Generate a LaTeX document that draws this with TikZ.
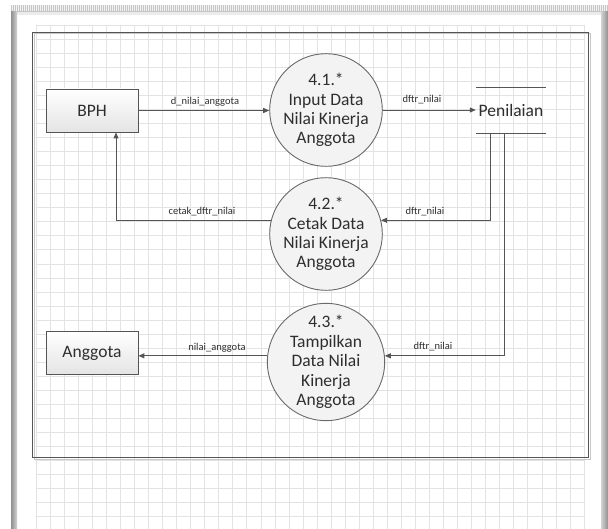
\documentclass[tikz,border=0pt]{standalone}
\usepackage{fontspec}
\setmainfont{Carlito}
\usetikzlibrary{arrows.meta}
\definecolor{linegray}{HTML}{555555}
\definecolor{circgray}{HTML}{6A6A6A}
\definecolor{circfill}{HTML}{F3F3F3}
\definecolor{boxbot}{HTML}{E4E4E4}
\definecolor{txt}{HTML}{2E2E2E}
\definecolor{gridc}{HTML}{E3E3E3}
\definecolor{bandc}{HTML}{C4C4C4}
\definecolor{barc}{HTML}{B4B4B4}
\tikzset{
  ext/.style={draw=linegray, line width=0.9pt, top color=white, bottom color=boxbot,
    minimum width=92pt, minimum height=43pt, inner sep=0pt,
    font=\fontsize{17.5}{19.5}\selectfont, text=txt},
  proc/.style={circle, draw=circgray, line width=0.9pt, fill=circfill,
    minimum size=108pt, inner sep=0pt, align=center,
    font=\fontsize{17.5}{19.4}\selectfont, text=txt},
  store/.style={inner sep=0pt, minimum width=70pt, minimum height=45pt,
    font=\fontsize{17.5}{19.5}\selectfont, text=txt},
  flow/.style={draw=linegray, line width=0.95pt, -{Triangle[length=6pt,width=5pt]}},
  lbl/.style={font=\fontsize{10.5}{12}\selectfont, text=txt, inner sep=0pt},
  gridline/.style={draw=gridc, line width=0.6pt},
}
\begin{document}
\begin{tikzpicture}[x=1pt,y=-1pt]
\useasboundingbox (0,0) rectangle (608,529);
\fill[white] (0,0) rectangle (608,529);
% window chrome
\fill[bandc] (11,5) rectangle (608,12);
\foreach \x in {12,14,...,606} \draw[white!80!bandc, line width=0.5pt] (\x,5.5) -- (\x,11.5);
\fill[black!8] (17,12) rectangle (601,15);
\fill[left color=barc!80!black, right color=barc!60] (11,12) rectangle (17,529);
\fill[left color=barc!60, right color=barc!80!black] (601,12) rectangle (608,529);
% grid
\foreach \i in {0,...,39} \draw[gridline] ({36+14.05*\i},25) -- ({36+14.05*\i},529);
\foreach \j in {0,...,35} \draw[gridline] (36,{25+14.05*\j}) -- (584,{25+14.05*\j});
% frame
\draw[black!22, line width=1pt] (34,34) rectangle (590,459);
\draw[linegray, line width=0.9pt] (32,32) rectangle (588,457);
% nodes
\node[ext] (bph) at (92,110.5) {BPH};
\node[ext] (ang) at (92,353) {Anggota};
\node[proc] (p1) at (326,110) {4.1.*\\Input Data\\Nilai Kinerja\\Anggota};
\node[proc] (p2) at (326,234) {4.2.*\\Cetak Data\\Nilai Kinerja\\Anggota};
\node[proc] (p3) at (326,362) {4.3.*\\Tampilkan\\Data Nilai\\Kinerja\\Anggota};
\node[store] (ds) at (511,110.5) {Penilaian};
\draw[linegray, line width=0.9pt] (ds.north west) -- (ds.north east);
\draw[linegray, line width=0.9pt] (ds.south west) -- (ds.south east);
% flows
\draw[flow] (bph.east) -- (bph.east -| p1.west);
\draw[flow] (p1.east) -- (p1.east -| ds.west);
\draw[flow] ([xshift=-21pt]ds.south) |- (p2.14);
\draw[flow] (p2.166) -| ([xshift=24pt]bph.south);
\draw[flow] ([xshift=-7pt]ds.south) |- (p3.6);
\draw[flow] (p3.174) -- (p3.174 -| ang.east);
% labels
\node[lbl] (l1) at (205,102) {d\_nilai\_anggota};
\node[lbl] (l2) at (422,100) {dftr\_nilai};
\node[lbl] (l3) at (202,212) {cetak\_dftr\_nilai};
\node[lbl] (l4) at (425,212) {dftr\_nilai};
\node[lbl] (l5) at (433,347) {dftr\_nilai};
\node[lbl] (l6) at (217,348) {nilai\_anggota};
\end{tikzpicture}
\end{document}
